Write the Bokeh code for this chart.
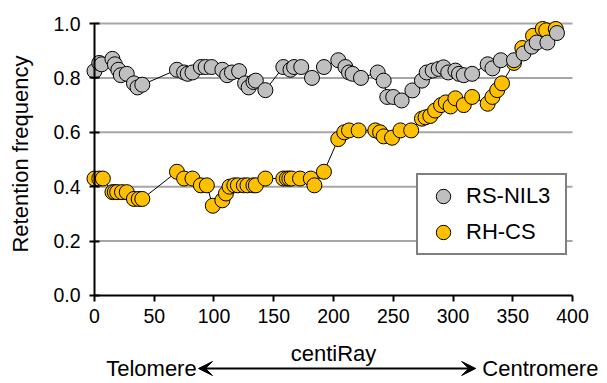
import math
from bokeh.plotting import figure
from bokeh.models import (Range1d, FixedTicker, Legend, LegendItem, Label, Arrow,
                          VeeHead, NumeralTickFormatter, LinearAxis)
from bokeh.embed import file_html
from bokeh.resources import INLINE

# ---------------- data ----------------
x_ticks = [0, 50, 100, 150, 200, 250, 300, 350, 400]
y_ticks = [0.0, 0.2, 0.4, 0.6, 0.8, 1.0]

rs_nil3_x = [0, 4, 6, 15, 17, 20, 22, 27, 33, 36, 40,
             69, 75, 78, 82, 89, 93, 98, 107, 111, 115, 121, 126, 129, 133, 135, 143,
             158, 164, 167, 173, 182, 192, 204, 210, 213, 216, 223, 237, 242,
             245, 250, 257, 266, 274, 278, 283, 288, 292, 296, 302, 305, 309, 316,
             329, 333, 340, 351, 359, 366, 370, 379, 387]
rs_nil3_y = [0.825, 0.855, 0.85, 0.87, 0.85, 0.83, 0.81, 0.815, 0.78, 0.765, 0.775,
             0.83, 0.82, 0.815, 0.82, 0.84, 0.84, 0.84, 0.83, 0.81, 0.82, 0.825, 0.78, 0.765, 0.785, 0.79, 0.755,
             0.84, 0.83, 0.84, 0.84, 0.80, 0.84, 0.865, 0.84, 0.82, 0.815, 0.80, 0.82, 0.79,
             0.73, 0.73, 0.717, 0.754, 0.79, 0.82, 0.827, 0.833, 0.839, 0.82, 0.827, 0.815, 0.81, 0.815,
             0.85, 0.835, 0.865, 0.865, 0.89, 0.915, 0.93, 0.93, 0.965]

rh_cs_x = [0, 4, 7, 15, 17, 19, 23, 27, 33, 37, 40,
           69, 75, 82, 89, 94, 99,
           107, 110, 113, 117, 120, 125, 128, 133, 135,
           143, 158, 161, 163, 165, 172, 181, 184, 192,
           204, 209, 213, 221, 235, 239, 242, 249, 256, 265,
           274, 277, 281, 285, 290, 294, 298, 302, 309, 316,
           329, 333, 337, 341, 351, 358, 367, 375, 378, 386]
rh_cs_y = [0.43, 0.43, 0.43, 0.38, 0.38, 0.38, 0.38, 0.38, 0.355, 0.355, 0.355,
           0.455, 0.43, 0.43, 0.405, 0.405, 0.33,
           0.35, 0.375, 0.40, 0.405, 0.405, 0.405, 0.405, 0.405, 0.405,
           0.43, 0.43, 0.43, 0.43, 0.43, 0.43, 0.43, 0.405, 0.455,
           0.575, 0.60, 0.607, 0.607, 0.607, 0.60, 0.585, 0.58, 0.607, 0.607,
           0.65, 0.655, 0.66, 0.68, 0.70, 0.71, 0.695, 0.725, 0.70, 0.73,
           0.705, 0.73, 0.755, 0.78, 0.855, 0.91, 0.955, 0.98, 0.975, 0.98]

FONT = "Liberation Sans"
GRAY = "#BFBFBF"
GOLD = "#FFC000"
TICK_FS = "19.5px"
LABEL_FS = "22px"

# frame covers the whole canvas; axes are placed at x=0 / y=0 inside it
p = figure(width=606, height=382, output_backend="svg", toolbar_location=None,
           x_range=Range1d(-78.66, 428.45), y_range=Range1d(-0.3199, 1.0846),
           x_axis_location=None, y_axis_location=None,
           min_border_left=0, min_border_right=0, min_border_top=0, min_border_bottom=0)
p.outline_line_color = None
p.xgrid.visible = False
p.ygrid.visible = False

# gridlines (from the tick arrays)
grid_y = [t for t in y_ticks if t > 0]
p.segment(x0=[x_ticks[0]] * len(grid_y), x1=[x_ticks[-1]] * len(grid_y),
          y0=grid_y, y1=grid_y, line_color="#A6A6A6", line_width=2)

# series
p.line(rh_cs_x, rh_cs_y, line_color="black", line_width=1)
r_cs = p.scatter(rh_cs_x, rh_cs_y, size=15, fill_color=GOLD, line_color="black", line_width=1)
p.line(rs_nil3_x, rs_nil3_y, line_color="black", line_width=1)
r_nil = p.scatter(rs_nil3_x, rs_nil3_y, size=15, fill_color=GRAY, line_color="black", line_width=1)

# axes
xa = LinearAxis(fixed_location=0)
xa.ticker = FixedTicker(ticks=x_ticks)
xa.bounds = (x_ticks[0], x_ticks[-1])
xa.axis_line_width = 2
xa.axis_line_color = "black"
xa.major_tick_line_width = 2
xa.major_tick_in = 0
xa.major_tick_out = 6
xa.minor_tick_line_color = None
xa.major_label_text_font = FONT
xa.major_label_text_font_size = TICK_FS
xa.major_label_text_color = "black"
xa.major_label_standoff = 8
xa.axis_label = "centiRay"
xa.axis_label_text_font = FONT
xa.axis_label_text_font_size = LABEL_FS
xa.axis_label_text_font_style = "normal"
xa.axis_label_text_color = "black"
xa.axis_label_standoff = 14
p.add_layout(xa, "below")

ya = LinearAxis(fixed_location=0)
ya.ticker = FixedTicker(ticks=y_ticks)
ya.bounds = (y_ticks[0], y_ticks[-1])
ya.formatter = NumeralTickFormatter(format="0.0")
ya.axis_line_width = 2
ya.axis_line_color = "black"
ya.major_tick_line_width = 2
ya.major_tick_in = 5
ya.major_tick_out = 5
ya.minor_tick_line_color = None
ya.major_label_text_font = FONT
ya.major_label_text_font_size = TICK_FS
ya.major_label_text_color = "black"
ya.major_label_standoff = 9
p.add_layout(ya, "left")

p.add_layout(Label(x=-62, y=0.52, text="Retention frequency", angle=math.pi / 2,
                   text_align="center", text_baseline="middle",
                   text_font=FONT, text_font_size=LABEL_FS, text_color="black"))

# Telomere <-> Centromere
row_y = -0.2684
p.add_layout(Arrow(x_start=87, x_end=319, y_start=row_y, y_end=row_y, line_width=2,
                   line_color="black",
                   start=VeeHead(size=14, fill_color="black", line_color="black"),
                   end=VeeHead(size=14, fill_color="black", line_color="black")))
p.add_layout(Label(x=85.5, y=row_y, text="Telomere", text_align="right", text_baseline="middle",
                   text_font=FONT, text_font_size=LABEL_FS, text_color="black"))
p.add_layout(Label(x=324.5, y=row_y, text="Centromere", text_align="left", text_baseline="middle",
                   text_font=FONT, text_font_size=LABEL_FS, text_color="black"))

legend = Legend(items=[LegendItem(label="RS-NIL3", renderers=[r_nil]),
                       LegendItem(label="RH-CS", renderers=[r_cs])],
                location=(416, 127), padding=3, spacing=0, margin=0,
                glyph_width=44, glyph_height=36, label_height=34, label_width=96,
                label_standoff=1, label_text_font=FONT, label_text_font_size=LABEL_FS,
                label_text_color="black", border_line_color="black", border_line_width=2,
                background_fill_color="white", background_fill_alpha=1)
p.add_layout(legend)

open("out.html", "w").write(file_html(p, INLINE))
